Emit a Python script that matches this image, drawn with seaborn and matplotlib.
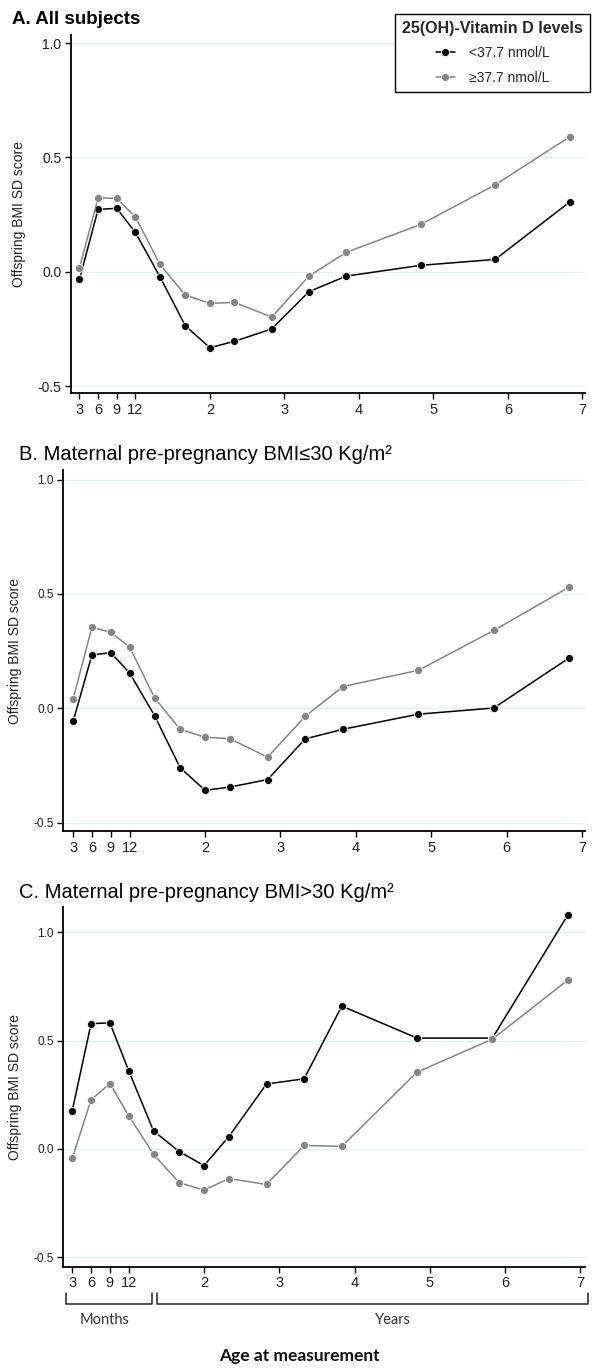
import matplotlib
matplotlib.use("Agg")
import matplotlib.pyplot as plt
import matplotlib.transforms as mtransforms
import numpy as np
import pandas as pd
import seaborn as sns

# ---------------- data ----------------
ages = [0.25, 0.5, 0.75, 1.0, 1.33, 1.67, 2.0, 2.33, 2.83, 3.33, 3.83, 4.83, 5.83, 6.83]
groups = ["<37.7 nmol/L", "\u226537.7 nmol/L"]

a_low = [-0.033, 0.273, 0.277, 0.172, -0.022, -0.236, -0.332, -0.304, -0.250, -0.087, -0.019, 0.028, 0.054, 0.305]
a_high = [0.017, 0.323, 0.321, 0.240, 0.032, -0.102, -0.138, -0.134, -0.198, -0.019, 0.085, 0.207, 0.380, 0.590]
b_low = [-0.058, 0.233, 0.243, 0.154, -0.032, -0.260, -0.359, -0.345, -0.312, -0.134, -0.092, -0.026, 0.001, 0.220]
b_high = [0.039, 0.354, 0.332, 0.268, 0.046, -0.092, -0.127, -0.133, -0.214, -0.035, 0.095, 0.166, 0.340, 0.530]
c_low = [0.177, 0.579, 0.582, 0.361, 0.083, -0.012, -0.077, 0.057, 0.300, 0.324, 0.660, 0.512, 0.512, 1.080]
c_high = [-0.043, 0.227, 0.302, 0.153, -0.025, -0.156, -0.190, -0.137, -0.164, 0.016, 0.012, 0.355, 0.507, 0.780]

x_ticks = [0.25, 0.5, 0.75, 1.0, 2, 3, 4, 5, 6, 7]
x_ticklabels = ["3", "6", "9", "12", "2", "3", "4", "5", "6", "7"]
y_ticks = [-0.5, 0.0, 0.5, 1.0]
y_ticklabels = ["-0.5", "0.0", "0.5", "1.0"]

titles = ["A. All subjects",
          "B. Maternal pre-pregnancy BMI\u226430 Kg/m\u00b2",
          "C. Maternal pre-pregnancy BMI>30 Kg/m\u00b2"]
legend_title = "25(OH)-Vitamin D levels"
y_label = "Offspring BMI SD score"
x_label = "Age at measurement"

# ---------------- style ----------------
sns.set_theme(style="white")
plt.rcParams["font.family"] = ["Liberation Sans", "DejaVu Sans"]

W, H = 597, 1369
fig = plt.figure(figsize=(W / 100, H / 100), dpi=100)
fig.patch.set_facecolor("white")


def rect(l, r, t, b):
    return [l / W, 1 - b / H, (r - l) / W, (b - t) / H]


def fx(x):
    return x / W


def fy(y):
    return 1 - y / H


panels = [
    dict(rect=rect(71, 585, 35, 393), xlim=(0.136, 7.035), ylim=(-0.530, 1.035),
         low=a_low, high=a_high, ytick_fs=10, title_x=12, title_y=19, title_w="bold", title_fs=13.5),
    dict(rect=rect(63.5, 585, 470, 831), xlim=(0.123, 7.04), ylim=(-0.537, 1.042),
         low=b_low, high=b_high, ytick_fs=8.5, title_x=19, title_y=454, title_w="normal", title_fs=14.5),
    dict(rect=rect(63.3, 585, 906.7, 1266.7), xlim=(0.131, 7.06), ylim=(-0.544, 1.119),
         low=c_low, high=c_high, ytick_fs=8.5, title_x=19, title_y=892, title_w="normal", title_fs=14.5),
]

palette = {groups[0]: "#000000", groups[1]: "#858585"}
axes = []
for i, p in enumerate(panels):
    ax = fig.add_axes(p["rect"])
    df = pd.DataFrame({
        "age": ages * 2,
        "z": p["low"] + p["high"],
        "group": [groups[0]] * len(ages) + [groups[1]] * len(ages),
    })
    for ycl in y_ticks:
        ax.axhline(ycl, color="#e8efef", lw=0.9, zorder=0)
    sns.lineplot(data=df, x="age", y="z", hue="group", palette=palette,
                 hue_order=groups, marker="o", markersize=5.8, markeredgewidth=0.6,
                 linewidth=1.1, sort=False, ax=ax, legend=(i == 0), zorder=3)
    ax.set_xlim(*p["xlim"])
    ax.set_ylim(*p["ylim"])
    ax.set_xticks(x_ticks)
    ax.set_xticklabels(x_ticklabels, fontsize=10.5, color="#222222")
    ax.set_yticks(y_ticks)
    ax.set_yticklabels(y_ticklabels, fontsize=p["ytick_fs"], color="#222222")
    ax.tick_params(axis="both", direction="out", length=4, width=1.0, color="black",
                   bottom=True, left=True, pad=3)
    ax.set_xlabel("")
    ax.set_ylabel(y_label, fontsize=10, color="#222222", labelpad=8)
    for s in ["top", "right"]:
        ax.spines[s].set_visible(False)
    for s in ["left", "bottom"]:
        ax.spines[s].set_color("black")
        ax.spines[s].set_linewidth(1.3)
    ax.grid(False)
    fig.text(fx(p["title_x"]), fy(p["title_y"]), titles[i], fontsize=p["title_fs"],
             fontweight=p["title_w"], ha="left", va="center", color="#000000")
    axes.append(ax)

# legend in panel A
ax0 = axes[0]
handles, labels = ax0.get_legend_handles_labels()
if ax0.legend_:
    ax0.legend_.remove()
leg = ax0.legend(handles, labels, title=legend_title, loc="upper right",
                 bbox_to_anchor=(fx(590), fy(14)), bbox_transform=fig.transFigure,
                 borderaxespad=0, frameon=True, fancybox=False, edgecolor="black",
                 framealpha=1, fontsize=10, title_fontsize=11.5, handlelength=1.4,
                 labelspacing=0.75, borderpad=0.5, handletextpad=1.0)
leg.get_title().set_fontweight("bold")
leg.get_frame().set_linewidth(1.0)

# brackets under panel C (Months / Years)
axc = axes[2]
trans = mtransforms.blended_transform_factory(axc.transData, fig.transFigure)
yb_top, yb_bot = fy(1293), fy(1304)
for x0, x1 in [(0.162, 1.31), (1.37, 7.10)]:
    axc.plot([x0, x0, x1, x1], [yb_top, yb_bot, yb_bot, yb_top], color="#222222",
             lw=1.1, transform=trans, clip_on=False)
axc.text(0.685, fy(1320), "Months", transform=trans, ha="center", va="center",
         fontsize=10.5, color="#333333", family=["Lato", "DejaVu Sans"])
axc.text(4.51, fy(1320), "Years", transform=trans, ha="center", va="center",
         fontsize=10.5, color="#333333", family=["Lato", "DejaVu Sans"])
fig.text(fx(299), fy(1356), x_label, ha="center", va="center", fontsize=12.5,
         fontweight="bold", color="#111111", family=["Lato", "DejaVu Sans"])

fig.savefig("out.png", dpi=100, facecolor="white")
